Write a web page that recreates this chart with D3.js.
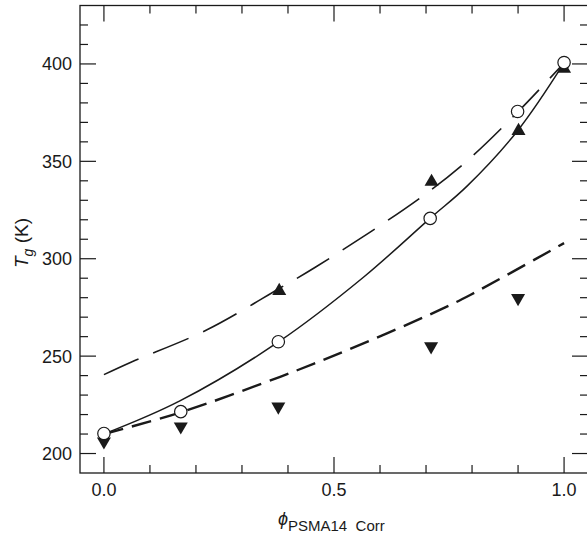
<!DOCTYPE html>
<html lang="en">
<head>
<meta charset="utf-8">
<script src="https://d3js.org/d3.v7.min.js"></script>
<style>
  body { margin: 0; background: #fff; }
  svg { display: block; font-family: 'Liberation Sans', Arial, Helvetica, sans-serif; }
</style>
</head>
<body>
<div id="chart"></div>
<script>
// measured points
var circleX = [0, 0.167, 0.379, 0.709, 0.899, 1.0];
var circleY = [210.3, 221.5, 257.4, 320.7, 375.6, 400.7];
var upX = [0.381, 0.712, 0.901, 1.0];
var upY = [283.5, 339.5, 365.6, 397.5];
var downX = [0, 0.167, 0.379, 0.711, 0.9];
var downY = [206.2, 213.9, 224.1, 255, 279.8];

// curves
var solidX = [0, 0.165, 0.38, 0.564, 0.71, 0.788, 0.9, 1.0];
var solidY = [210, 227, 257.4, 290.5, 321, 337, 366, 400.5];
var longX = [0, 0.06, 0.223, 0.383, 0.462, 0.68, 0.788, 0.9, 1.0];
var longY = [240.5, 247, 263.4, 285, 296, 330, 350, 375.5, 400.5];
var shortX = [0, 0.17, 0.383, 0.528, 0.73, 0.796, 1.0];
var shortY = [210, 221.4, 239.4, 253, 273.7, 281.4, 308];

var xTicks = [0, 0.5, 1.0];
var xMinor = [0.1, 0.2, 0.3, 0.4, 0.6, 0.7, 0.8, 0.9];
var yTicks = [200, 250, 300, 350, 400];
var yMinor = [210, 220, 230, 240, 260, 270, 280, 290, 310, 320, 330, 340, 360, 370, 380, 390, 410, 420];

var width = 587, height = 534;
var frame = {left: 80, right: 588, top: 5.5, bottom: 473};

var x = d3.scaleLinear().domain([-0.052, 1.052]).range([frame.left, frame.right]);
var y = d3.scaleLinear().domain([190, 430]).range([frame.bottom, frame.top]);

var svg = d3.select("#chart").append("svg")
  .attr("width", width)
  .attr("height", height);

var ink = "#1a1a1a";

// frame
svg.append("rect")
  .attr("x", frame.left).attr("y", frame.top)
  .attr("width", frame.right - frame.left).attr("height", frame.bottom - frame.top)
  .attr("fill", "none").attr("stroke", ink).attr("stroke-width", 1.3);

// ticks, all pointing inward
function tickLines(vals, len, horizontal) {
  vals.forEach(function(v) {
    if (horizontal) {
      svg.append("line").attr("x1", x(v)).attr("x2", x(v))
        .attr("y1", frame.bottom).attr("y2", frame.bottom - len)
        .attr("stroke", ink).attr("stroke-width", 1.2);
      svg.append("line").attr("x1", x(v)).attr("x2", x(v))
        .attr("y1", frame.top).attr("y2", frame.top + len)
        .attr("stroke", ink).attr("stroke-width", 1.2);
    } else {
      svg.append("line").attr("y1", y(v)).attr("y2", y(v))
        .attr("x1", frame.left).attr("x2", frame.left + len)
        .attr("stroke", ink).attr("stroke-width", 1.2);
      svg.append("line").attr("y1", y(v)).attr("y2", y(v))
        .attr("x1", frame.right).attr("x2", frame.right - len)
        .attr("stroke", ink).attr("stroke-width", 1.2);
    }
  });
}
tickLines(xTicks, 16, true);
tickLines(xMinor, 8, true);
tickLines(yTicks, 16, false);
tickLines(yMinor, 8, false);

// tick labels
svg.selectAll("text.xl").data(xTicks).enter().append("text")
  .attr("class", "xl")
  .attr("x", function(d) { return x(d); })
  .attr("y", 496)
  .attr("text-anchor", "middle")
  .attr("font-size", 18)
  .attr("fill", ink)
  .text(function(d) { return d.toFixed(1); });

svg.selectAll("text.yl").data(yTicks).enter().append("text")
  .attr("class", "yl")
  .attr("x", 72)
  .attr("y", function(d) { return y(d); })
  .attr("dy", "0.36em")
  .attr("text-anchor", "end")
  .attr("font-size", 18)
  .attr("fill", ink)
  .text(function(d) { return d; });

// axis titles
var xt = svg.append("text").attr("x", 278).attr("y", 525).attr("fill", ink);
xt.append("tspan").attr("font-size", 18).attr("font-style", "italic").text("\u03D5");
xt.append("tspan").attr("font-size", 15).attr("dy", 6).text("PSMA14\u00A0 Corr");

var yt = svg.append("text")
  .attr("transform", "translate(28,243) rotate(-90)")
  .attr("text-anchor", "middle")
  .attr("fill", ink)
  .attr("font-size", 19);
yt.append("tspan").attr("font-style", "italic").text("T");
yt.append("tspan").attr("font-style", "italic").attr("font-size", 14).attr("dy", 5).text("g");
yt.append("tspan").attr("dy", -5).text("\u00A0(K)");

// curves
var line = d3.line()
  .x(function(d) { return x(d[0]); })
  .y(function(d) { return y(d[1]); })
  .curve(d3.curveCatmullRom.alpha(0.5));

function drawCurve(xs, ys, dash, w) {
  svg.append("path")
    .datum(d3.zip(xs, ys))
    .attr("d", line)
    .attr("fill", "none")
    .attr("stroke", ink)
    .attr("stroke-width", w)
    .attr("stroke-dasharray", dash);
}
drawCurve(longX, longY, "38,16", 1.6);
drawCurve(shortX, shortY, "20,9", 2.4);
drawCurve(solidX, solidY, null, 1.5);

// markers
var tri = d3.symbol().type(d3.symbolTriangle).size(85);

svg.selectAll("path.up").data(d3.zip(upX, upY)).enter().append("path")
  .attr("class", "up")
  .attr("d", tri)
  .attr("transform", function(d) { return "translate(" + x(d[0]) + "," + y(d[1]) + ")"; })
  .attr("fill", ink);

svg.selectAll("path.down").data(d3.zip(downX, downY)).enter().append("path")
  .attr("class", "down")
  .attr("d", tri)
  .attr("transform", function(d) { return "translate(" + x(d[0]) + "," + y(d[1]) + ") rotate(180)"; })
  .attr("fill", ink);

svg.selectAll("circle.pt").data(d3.zip(circleX, circleY)).enter().append("circle")
  .attr("class", "pt")
  .attr("cx", function(d) { return x(d[0]); })
  .attr("cy", function(d) { return y(d[1]); })
  .attr("r", 6.2)
  .attr("fill", "#fff")
  .attr("stroke", ink)
  .attr("stroke-width", 1.2);
</script>
</body>
</html>
